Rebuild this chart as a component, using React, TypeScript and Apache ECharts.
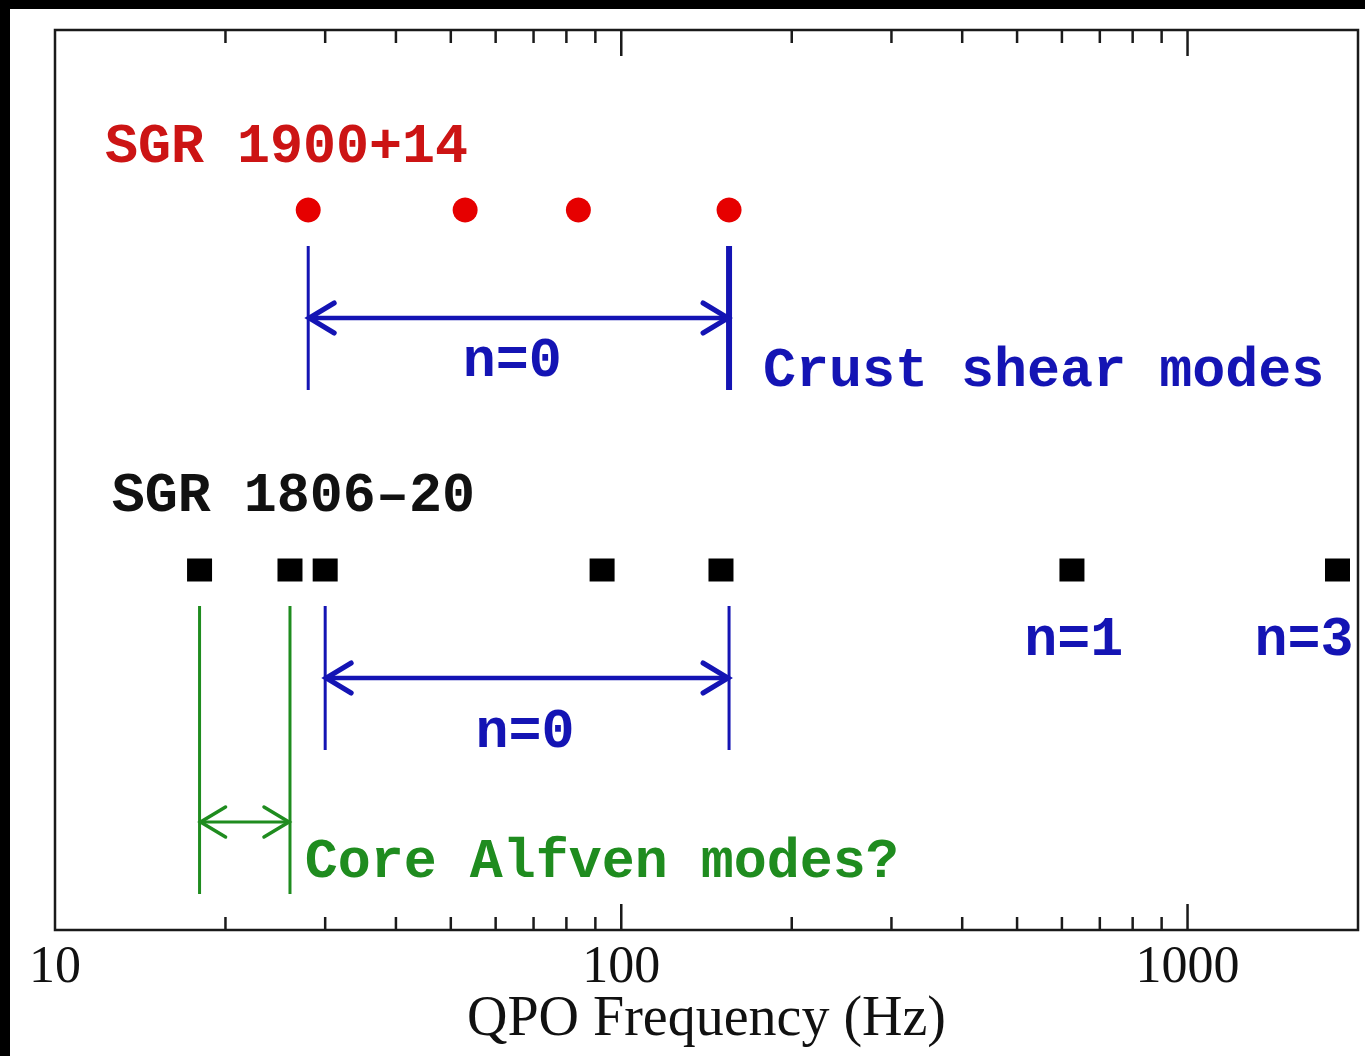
import React, { useEffect, useRef } from 'react';
import * as echarts from 'echarts';

// QPO frequencies (Hz) detected in the two giant flares
const sgr1900Freqs = [28, 53, 84, 155];
const sgr1806Freqs = [18, 26, 30, 92.5, 150, 625, 1840];
// vertical rows (arbitrary units, axis runs 0..100)
const sgr1900Row = 80;
const sgr1806Row = 40;

// log-axis tick marks drawn inside the frame
const minorTicks = [20, 30, 40, 50, 60, 70, 80, 90, 200, 300, 400, 500, 600, 700, 800, 900];
const majorTicks = [100, 1000];

// brackets: [low freq, high freq, arrow level, top level, bottom level]
const crustUpper = [28, 155, 68, 76, 60];
const crustLower = [30, 155, 28, 36, 20];
const coreAlfven = [18, 26, 12, 36, 4];

// annotations anchored at their left edge: [text, freq, level]
const redLabels: [string, number, number][] = [['SGR 1900+14', 12.25, 87]];
const blackLabels: [string, number, number][] = [['SGR 1806\u201320', 12.6, 48.2]];
const blueLabels: [string, number, number][] = [
  ['n=0', 52.5, 63.2],
  ['Crust shear modes', 178, 62.1],
  ['n=0', 55.3, 21.9],
  ['n=1', 515, 32.2],
  ['n=3', 1313, 32.2],
];
const greenLabels: [string, number, number][] = [['Core Alfven modes?', 27.6, 7.5]];

const RED = '#e60000';
const RED_TEXT = '#cc1414';
const BLUE = '#1414b4';
const GREEN = '#1f8c1f';
const MONO = 'bold 55px "Liberation Mono", "DejaVu Sans Mono", monospace';

function textSeries(labels: [string, number, number][], color: string) {
  return {
    type: 'custom',
    coordinateSystem: 'cartesian2d',
    silent: true,
    clip: false,
    encode: { x: 0, y: 1 },
    data: labels.map((l) => [l[1], l[2]]),
    renderItem: (params: any, api: any) => {
      const p = api.coord([api.value(0), api.value(1)]);
      return {
        type: 'text',
        x: p[0],
        y: p[1],
        style: {
          text: labels[params.dataIndex][0],
          fill: color,
          font: MONO,
          align: 'left',
          verticalAlign: 'middle',
        },
      };
    },
  };
}

function bracketSeries(b: number[], color: string, leftW: number, rightW: number, arrowW: number) {
  return {
    type: 'custom',
    coordinateSystem: 'cartesian2d',
    silent: true,
    clip: false,
    encode: { x: 0, y: 2 },
    data: [b],
    renderItem: (_params: any, api: any) => {
      const lo = api.value(0);
      const hi = api.value(1);
      const ay = api.coord([lo, api.value(2)])[1];
      const top = api.coord([lo, api.value(3)])[1];
      const bot = api.coord([lo, api.value(4)])[1];
      const lx = api.coord([lo, 0])[0];
      const rx = api.coord([hi, 0])[0];
      const dx = 26;
      const dy = 15;
      const arm = { stroke: color, lineWidth: arrowW + 0.5, fill: 'none', lineJoin: 'miter', lineCap: 'round' };
      return {
        type: 'group',
        children: [
          { type: 'line', shape: { x1: lx, y1: top, x2: lx, y2: bot }, style: { stroke: color, lineWidth: leftW } },
          { type: 'line', shape: { x1: rx, y1: top, x2: rx, y2: bot }, style: { stroke: color, lineWidth: rightW } },
          { type: 'line', shape: { x1: lx, y1: ay, x2: rx, y2: ay }, style: { stroke: color, lineWidth: arrowW } },
          { type: 'polyline', shape: { points: [[lx + dx, ay - dy], [lx + 1, ay], [lx + dx, ay + dy]] }, style: arm },
          { type: 'polyline', shape: { points: [[rx - dx, ay - dy], [rx - 1, ay], [rx - dx, ay + dy]] }, style: arm },
        ],
      };
    },
  };
}

const tickSeries = {
  type: 'custom',
  coordinateSystem: 'cartesian2d',
  silent: true,
  clip: false,
  encode: { x: 0, y: 1 },
  data: [...minorTicks.map((v) => [v, 0]), ...majorTicks.map((v) => [v, 1])],
  renderItem: (_params: any, api: any) => {
    const v = api.value(0);
    const len = api.value(1) === 1 ? 26 : 13;
    const b = api.coord([v, 0]);
    const t = api.coord([v, 100]);
    const st = { stroke: '#1a1a1a', lineWidth: 2.5 };
    return {
      type: 'group',
      children: [
        { type: 'line', shape: { x1: b[0], y1: b[1], x2: b[0], y2: b[1] - len }, style: st },
        { type: 'line', shape: { x1: t[0], y1: t[1], x2: t[0], y2: t[1] + len }, style: st },
      ],
    };
  },
};

export default function App() {
  const ref = useRef<HTMLDivElement>(null);

  useEffect(() => {
    if (!ref.current) return;
    const chart = echarts.init(ref.current, null, { renderer: 'svg' });
    chart.setOption({
      animation: false,
      backgroundColor: '#ffffff',
      grid: {
        left: 45,
        right: 7,
        top: 21,
        bottom: 126,
        show: true,
        borderColor: '#1a1a1a',
        borderWidth: 2.5,
        backgroundColor: '#ffffff',
      },
      xAxis: {
        type: 'log',
        logBase: 10,
        min: 10,
        max: 2000,
        axisLine: { show: false },
        axisTick: { show: false },
        splitLine: { show: false },
        axisLabel: {
          margin: 14,
          lineHeight: 40,
          color: '#111',
          fontFamily: '"Liberation Serif", "DejaVu Serif", serif',
          fontSize: 52,
          formatter: (v: number) => {
            const l = Math.log10(v);
            return Math.abs(l - Math.round(l)) < 1e-6 ? String(Math.round(v)) : '';
          },
        },
        name: 'QPO Frequency (Hz)',
        nameLocation: 'middle',
        nameGap: 64,
        nameMoveOverlap: false,
        nameTextStyle: {
          color: '#111',
          fontFamily: '"Liberation Serif", "DejaVu Serif", serif',
          fontSize: 56,
          lineHeight: 44,
        },
      },
      yAxis: {
        type: 'value',
        min: 0,
        max: 100,
        show: false,
      },
      series: [
        tickSeries,
        bracketSeries(crustUpper, BLUE, 3, 6, 4.5),
        bracketSeries(crustLower, BLUE, 3, 3, 4.5),
        bracketSeries(coreAlfven, GREEN, 3, 3, 3),
        {
          type: 'scatter',
          symbol: 'circle',
          symbolSize: 25,
          itemStyle: { color: RED, opacity: 1 },
          silent: true,
          data: sgr1900Freqs.map((f) => [f, sgr1900Row]),
        },
        {
          type: 'scatter',
          symbol: 'rect',
          symbolSize: [25, 23],
          itemStyle: { color: '#000', opacity: 1 },
          silent: true,
          data: sgr1806Freqs.map((f) => [f, sgr1806Row]),
        },
        textSeries(redLabels, RED_TEXT),
        textSeries(blackLabels, '#111'),
        textSeries(blueLabels, BLUE),
        textSeries(greenLabels, GREEN),
      ],
    });
    return () => chart.dispose();
  }, []);

  return (
    <div style={{ position: 'fixed', left: 0, top: 0, width: 1365, height: 1056, background: '#000' }}>
      <div
        ref={ref}
        style={{ position: 'absolute', left: 10, top: 9, width: 1355, height: 1047, background: '#fff' }}
      />
    </div>
  );
}
